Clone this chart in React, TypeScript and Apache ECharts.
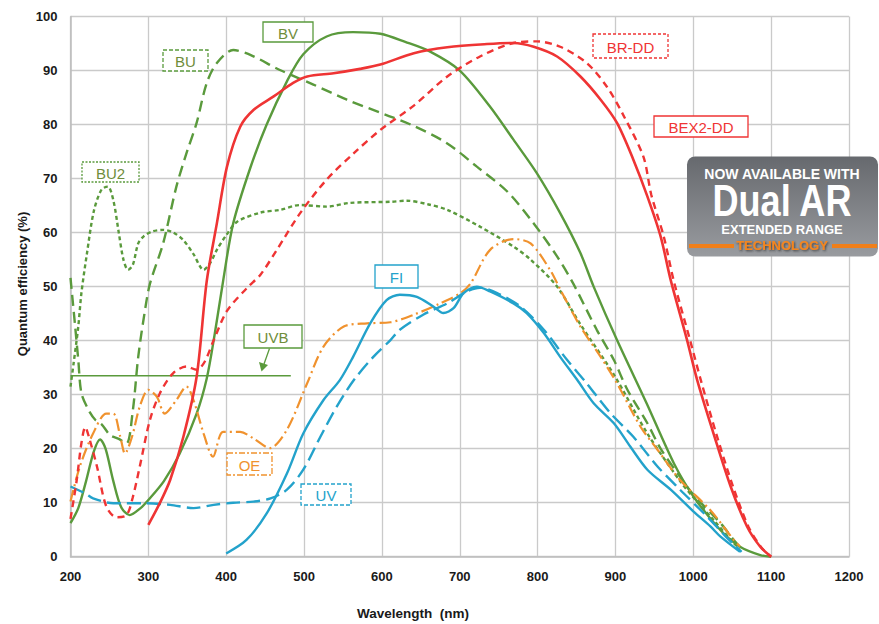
import React, { useEffect, useRef } from "react";
import * as echarts from "echarts";

// ---- data (wavelength nm, quantum efficiency %) ----
const xTicks = [200, 300, 400, 500, 600, 700, 800, 900, 1000, 1100, 1200];
const yTicks = [0, 10, 20, 30, 40, 50, 60, 70, 80, 90, 100];

const bvData = [
  [200, 6.2], [210, 9], [220, 14], [230, 19.5], [238, 21.7], [245, 20], [255, 14], [265, 9.2], [276, 7.7],
  [290, 9], [300, 10.5], [320, 14], [340, 19], [362, 26.5], [375, 33], [385, 41], [396, 51], [409, 61.7],
  [431, 72], [452, 80], [478, 88], [499, 93], [529, 96.3], [563, 97.1], [598, 96.8], [630, 95.3], [662, 93.5],
  [700, 90], [739, 83.3], [769, 77.2], [799, 71], [829, 63.6], [855, 56.2], [872, 50], [902, 40.1],
  [940, 28.4], [975, 17.3], [1000, 11.2], [1035, 4.9], [1060, 1.85], [1086, 0.3], [1100, 0],
];
const buData = [
  [200, 51.6], [206, 42.6], [210, 36.4], [214, 30.3], [223, 27.2], [232, 25.3], [240, 24.5], [251, 22.5],
  [262, 21.8], [272, 21], [280, 27], [287, 37], [295, 45], [302, 50.5], [319, 58], [336, 68.5], [349, 74.7],
  [362, 80.3], [375, 87.7], [388, 91.4], [409, 93.8], [431, 92.9], [469, 90.1], [512, 87.4], [555, 84.6],
  [605, 81.8], [637, 80], [683, 76.6], [722, 72.2], [761, 67.6], [795, 61.7], [825, 55.6], [846, 50.5],
  [876, 42], [898, 36.4], [915, 31], [941, 24.7], [958, 20], [983, 14.8], [1000, 11.5], [1035, 6.2],
  [1052, 3.1], [1060, 1.8],
];
const bu2Data = [
  [200, 31.5], [204, 35.8], [210, 42.6], [214, 48.8], [221, 56], [230, 64], [240, 68], [248, 68.5],
  [255, 66], [262, 60], [268, 55], [274, 53.1], [280, 54], [287, 58], [294, 59.3], [305, 60.2], [319, 60.5],
  [332, 60], [345, 58.6], [358, 56], [371, 53.1], [380, 54.5], [388, 56.8], [400, 59.5], [414, 62],
  [444, 63.7], [469, 64.2], [495, 65.1], [529, 64.8], [559, 65.5], [611, 65.7], [632, 65.9], [660, 65.2],
  [684, 64.2], [726, 61.1], [769, 57.4], [791, 55], [825, 50], [855, 43], [898, 33.7], [941, 22.8],
  [983, 14], [1000, 11], [1026, 6.8], [1052, 2.5], [1060, 1.5],
];
const uvbData = [
  [200, 33.5], [483, 33.5],
];
const bex2Data = [
  [300, 5.9], [315, 10], [328, 14.2], [345, 22.2], [362, 33.3], [375, 51], [388, 61.7], [401, 72.2],
  [418, 79.6], [435, 82.7], [461, 85.2], [486, 87.7], [504, 88.9], [538, 89.5], [572, 90.3], [598, 91.1],
  [641, 93.2], [684, 94.3], [735, 94.9], [769, 95.1], [795, 94.4], [825, 92.6], [855, 88.9], [881, 84.6],
  [902, 80.3], [923, 73.5], [941, 66.7], [958, 59.3], [971, 51.2], [992, 40.1], [1005, 32.7], [1026, 22.8],
  [1048, 13], [1069, 5.6], [1086, 1.85], [1100, 0],
];
const brddData = [
  [200, 7], [208, 14.2], [214, 21], [219, 24], [224, 22], [234, 16.7], [246, 9.3], [259, 7.3], [272, 7.7],
  [280, 11], [289, 16.7], [302, 25.3], [315, 30.3], [332, 34], [349, 35.2], [362, 34.6], [372, 36],
  [384, 40.1], [401, 45.5], [427, 49.8], [444, 52.2], [465, 56.8], [495, 63.6], [529, 69.8], [564, 74.7],
  [598, 79], [641, 83.5], [684, 88.9], [726, 92.6], [769, 95.1], [799, 95.4], [829, 94.4], [863, 91.4],
  [889, 87], [911, 81.5], [936, 74], [946, 67], [962, 59.3], [975, 51], [996, 40], [1010, 32.5],
  [1030, 22.5], [1051, 13], [1071, 5.5], [1088, 1.6], [1100, 0],
];
const fiData = [
  [400, 0.6], [426, 3.1], [452, 8], [478, 15.4], [499, 22.8], [525, 29], [546, 32.7], [563, 37], [585, 43.2],
  [606, 47.5], [623, 48.5], [645, 48.1], [666, 46.3], [679, 45.1], [692, 46], [705, 48.8], [722, 50],
  [739, 49.1], [769, 46.9], [786, 45.1], [808, 41.4], [829, 37], [851, 32.7], [872, 28.4], [898, 24.7],
  [919, 20.4], [941, 16.1], [971, 12.4], [1000, 8.4], [1022, 5.6], [1035, 3.7], [1060, 0.9],
];
const uvData = [
  [200, 13], [219, 11.7], [229, 10.8], [255, 9.9], [294, 9.9], [328, 9.6], [358, 9], [384, 9.6], [409, 10],
  [435, 10.2], [457, 10.8], [478, 12.4], [499, 16.1], [521, 22.2], [542, 27.8], [564, 32.7], [589, 37],
  [611, 40.1], [623, 42], [653, 44.8], [684, 46.9], [709, 49.1], [726, 49.8], [748, 48.8], [778, 46.3],
  [808, 42], [838, 36.4], [863, 32.1], [894, 26.5], [923, 22.2], [954, 16.7], [983, 12.4], [1018, 7.4],
  [1040, 4], [1062, 0.9],
];
const oeData = [
  [200, 10.2], [212, 16.7], [229, 22.8], [246, 26.5], [255, 26.5], [264, 22.2], [270, 19.1], [279, 22.2],
  [289, 27.8], [300, 30.9], [311, 29.6], [321, 26.5], [336, 29], [349, 31.5], [358, 29], [371, 22.8],
  [383, 18.5], [396, 23.1], [418, 23.1], [435, 21.9], [456, 20.1], [478, 23.5], [504, 32.1], [525, 38.9],
  [551, 42.6], [581, 43.2], [611, 43.4], [641, 44.8], [675, 46.9], [701, 48.8], [714, 50.6], [739, 56.8],
  [769, 58.8], [791, 58], [816, 53.1], [829, 49.5], [855, 42.6], [881, 37], [902, 32.1], [932, 24.1],
  [954, 19.8], [983, 14.2], [1022, 8.6], [1052, 3.1], [1060, 1.9],
];

// ---- styling ----
const GREEN = "#5a9a3c";
const GREEN_TXT = "#6f8d3b";
const RED = "#ef3434";
const BLUE = "#23a2cb";
const ORANGE = "#f0922e";
const FONT = "'Liberation Sans', Arial, sans-serif";

const labelBoxes = [
  { text: "BV", x: 263, y: 22, w: 50, h: 20, color: GREEN, txt: GREEN_TXT, dash: null },
  { text: "BU", x: 163, y: 50, w: 45, h: 21, color: GREEN, txt: GREEN_TXT, dash: [4, 2] },
  { text: "BU2", x: 82, y: 162, w: 57, h: 20, color: GREEN, txt: GREEN_TXT, dash: [2, 1.5] },
  { text: "UVB", x: 244, y: 325, w: 58, h: 23, color: GREEN, txt: GREEN_TXT, dash: null },
  { text: "OE", x: 227, y: 453, w: 45, h: 22, color: ORANGE, txt: ORANGE, dash: [6, 2, 2, 2] },
  { text: "UV", x: 301, y: 484, w: 50, h: 21, color: BLUE, txt: BLUE, dash: [4, 2] },
  { text: "FI", x: 375, y: 265, w: 43, h: 23, color: BLUE, txt: BLUE, dash: null },
  { text: "BR-DD", x: 593, y: 34, w: 75, h: 24, color: RED, txt: RED, dash: [3, 2] },
  { text: "BEX2-DD", x: 654, y: 116, w: 94, h: 21, color: RED, txt: RED, dash: null },
];

function line(name: string, data: number[][], color: string, type: any, width = 2.4, z = 2) {
  return {
    type: "line",
    name,
    data,
    smooth: 0.3,
    symbol: "none",
    z,
    lineStyle: { color, width, type, cap: "butt" },
    emphasis: { disabled: true },
  };
}

export default function App() {
  const ref = useRef<HTMLDivElement>(null);
  useEffect(() => {
    const chart = echarts.init(ref.current!, undefined, { renderer: "svg" });
    const graphics: any[] = [];
    labelBoxes.forEach((b) => {
      graphics.push({
        type: "rect",
        shape: { x: b.x, y: b.y, width: b.w, height: b.h },
        style: { fill: "#fff", stroke: b.color, lineWidth: 1.3, lineDash: b.dash || undefined },
        z: 100,
      });
      graphics.push({
        type: "text",
        x: b.x + b.w / 2,
        y: b.y + b.h / 2 + 1,
        style: {
          text: b.text, fill: b.txt, font: `15px ${FONT}`,
          align: "center", verticalAlign: "middle", textAlign: "center", textVerticalAlign: "middle",
        },
        z: 101,
      });
    });
    // UVB arrow
    graphics.push({
      type: "line",
      shape: { x1: 269.5, y1: 348.5, x2: 264, y2: 364 },
      style: { stroke: GREEN, lineWidth: 1.3 },
      z: 100,
    });
    graphics.push({
      type: "polygon",
      shape: { points: [[259, 362], [268, 365], [261.5, 371.5]] },
      style: { fill: GREEN },
      z: 100,
    });
    // axis names
    graphics.push({
      type: "text", x: 413, y: 613,
      style: { text: "Wavelength  (nm)", fill: "#1a1a1a", font: `bold 13.5px ${FONT}`, align: "center", verticalAlign: "middle", textAlign: "center", textVerticalAlign: "middle" },
    });
    graphics.push({
      type: "text", x: 22, y: 284, rotation: Math.PI / 2,
      style: { text: "Quantum efficiency (%)", fill: "#1a1a1a", font: `bold 13px ${FONT}`, align: "center", verticalAlign: "middle", textAlign: "center", textVerticalAlign: "middle" },
    });
    // badge
    graphics.push({
      type: "rect",
      shape: { x: 687, y: 156.5, width: 191, height: 100, r: 8 },
      style: {
        fill: new echarts.graphic.LinearGradient(0, 0, 0, 1, [
          { offset: 0, color: "#66696e" },
          { offset: 1, color: "#999b9f" },
        ]),
      },
      z: 110,
    });
    const bt = (text: string, y: number, font: string, fill: string, extra: any = {}, scaleX = 1, scaleY = 1) => ({
      type: "text", x: 782, y, z: 111, scaleX, scaleY,
      style: { text, fill, font, align: "center", verticalAlign: "middle", textAlign: "center", textVerticalAlign: "middle", ...extra },
    });
    graphics.push(bt("NOW AVAILABLE WITH", 174, `bold 14px ${FONT}`, "#ffffff"));
    graphics.push(bt("Dual AR", 201, `bold 41px ${FONT}`, "#ffffff", {}, 0.88, 1.08));
    graphics.push(bt("EXTENDED RANGE", 229.5, `bold 13px ${FONT}`, "#ffffff"));
    graphics.push({ type: "rect", shape: { x: 689, y: 244, width: 45, height: 4 }, style: { fill: "#f07f1a" }, z: 111 });
    graphics.push({ type: "rect", shape: { x: 832, y: 244, width: 45, height: 4 }, style: { fill: "#f07f1a" }, z: 111 });
    graphics.push(bt("TECHNOLOGY", 245.5, `bold 13px ${FONT}`, "#f5861f", { textShadowColor: "rgba(40,40,40,0.8)", textShadowBlur: 2, textShadowOffsetX: 1, textShadowOffsetY: 1 }));

    const labelFmt = (v: number) => String(v);
    chart.setOption({
      animation: false,
      backgroundColor: "#ffffff",
      grid: { left: 70.5, right: 30, top: 16.5, bottom: 67.3 },
      xAxis: {
        type: "value", min: xTicks[0], max: xTicks[xTicks.length - 1], interval: 100,
        axisLine: { show: true, lineStyle: { color: "#bdbdbd", width: 1.5 } },
        axisTick: { show: false },
        splitLine: { show: true, lineStyle: { color: "#cacaca", width: 1.3 } },
        axisLabel: { color: "#1a1a1a", fontFamily: FONT, fontWeight: "bold", fontSize: 13, margin: 13, formatter: labelFmt },
      },
      yAxis: {
        type: "value", min: yTicks[0], max: yTicks[yTicks.length - 1], interval: 10,
        axisLine: { show: true, lineStyle: { color: "#bdbdbd", width: 1.5 } },
        axisTick: { show: false },
        splitLine: { show: true, lineStyle: { color: "#cacaca", width: 1.3 } },
        axisLabel: { color: "#1a1a1a", fontFamily: FONT, fontWeight: "bold", fontSize: 13, margin: 13, formatter: labelFmt },
      },
      series: [
        line("UVB", uvbData, GREEN, "solid", 1.4),
        line("BU2", bu2Data, GREEN, [4, 3], 2.4),
        line("BU", buData, GREEN, [11, 6], 2.4),
        line("BV", bvData, GREEN, "solid", 2.4),
        line("OE", oeData, ORANGE, [12, 4, 2, 4], 2.2),
        line("UV", uvData, BLUE, [14, 6], 2.4),
        line("FI", fiData, BLUE, "solid", 2.4),
        line("BR-DD", brddData, RED, [7, 5], 2.4),
        line("BEX2-DD", bex2Data, RED, "solid", 2.6),
      ],
      graphic: graphics,
    });
    return () => chart.dispose();
  }, []);
  return (
    <div
      ref={ref}
      style={{ position: "absolute", left: 0, top: 0, width: 879, height: 624, background: "#fff" }}
    />
  );
}
